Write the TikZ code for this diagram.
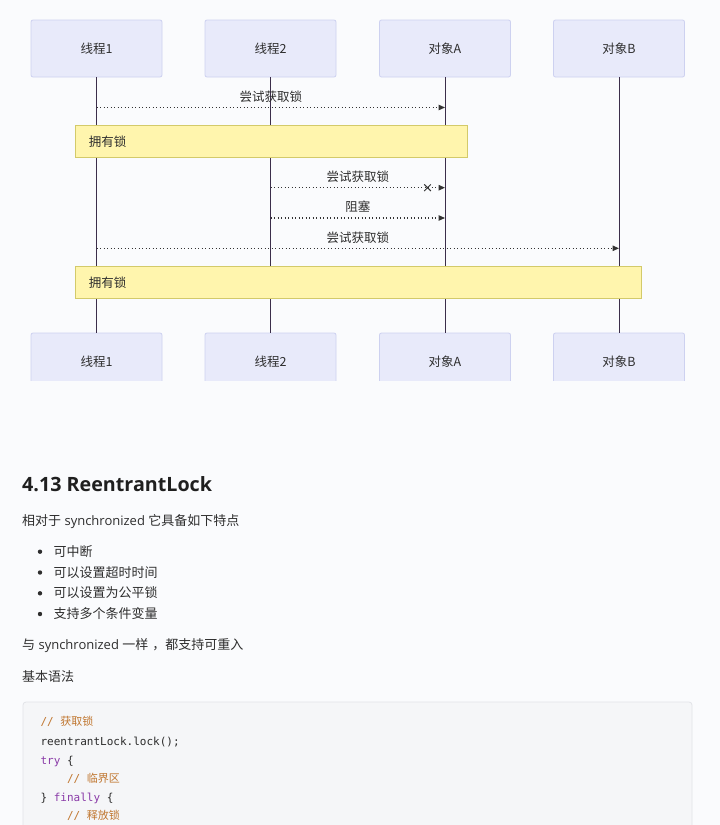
\documentclass[tikz,border=0pt]{standalone}
\usepackage{fontspec}
\setmainfont{Open Sans}
\newfontfamily\cjk{Noto Sans CJK SC}
\newfontfamily\codefont{DejaVu Sans Mono}
\usetikzlibrary{arrows.meta}
\definecolor{bg}{HTML}{FAFBFD}
\definecolor{actorfill}{HTML}{E8EAFA}
\definecolor{actorline}{HTML}{CDD1F0}
\definecolor{lifec}{HTML}{3B2E4A}
\definecolor{notefill}{HTML}{FFF5AD}
\definecolor{noteline}{HTML}{D3CA6A}
\definecolor{msgc}{HTML}{333333}
\definecolor{txt}{HTML}{2E2E2E}
\definecolor{headc}{HTML}{1F1F1F}
\definecolor{codebg}{HTML}{F5F6F8}
\definecolor{codeline}{HTML}{E2E4E8}
\definecolor{commentc}{HTML}{C0762F}
\definecolor{kwc}{HTML}{8A3BA8}
\definecolor{codec}{HTML}{2B2B2B}
\tikzset{
  actor/.style={draw=actorline, fill=actorfill, rounded corners=2pt, line width=0.8pt,
    minimum width=131pt, minimum height=57pt, text=txt,
    font=\cjk\fontsize{12.5}{14}\selectfont},
  lifeline/.style={draw=lifec, line width=1pt},
  notebox/.style={draw=noteline, fill=notefill, line width=0.8pt, anchor=north west,
    minimum height=32pt, inner xsep=14pt, align=left, text=txt,
    font=\cjk\fontsize{12.5}{14}\selectfont},
  msg/.style={draw=msgc, line width=1.1pt, dash pattern=on 1.4pt off 2.1pt,
    -{Triangle[length=6.5pt,width=5.5pt]}},
  msglabel/.style={text=txt, font=\cjk\fontsize{12.5}{14}\selectfont, yshift=11pt, inner sep=0pt},
  para/.style={anchor=west, inner sep=0pt, text=txt, font=\fontsize{13}{16}\selectfont,
    text height=11pt, text depth=2pt},
  codeln/.style={anchor=west, inner sep=0pt, text=codec, font=\codefont\fontsize{11}{13}\selectfont,
    text height=9pt, text depth=2pt}
}
\begin{document}
\begin{tikzpicture}[x=1pt,y=-1pt]
\useasboundingbox (0,0) rectangle (720,825);
\fill[bg] (0,0) rectangle (720,825);

% participants top
\node[actor] (t1top) at (96.5,48.5) {线程1};
\node[actor] (t2top) at (270.5,48.5) {线程2};
\node[actor] (t3top) at (445,48.5) {对象A};
\node[actor] (t4top) at (619,48.5) {对象B};

% participants bottom (cut off at the bottom)
\begin{scope}
\clip (0,0) rectangle (720,380);
\node[actor] (t1bot) at (96.5,361.5) {线程1};
\node[actor] (t2bot) at (270.5,361.5) {线程2};
\node[actor] (t3bot) at (445,361.5) {对象A};
\node[actor] (t4bot) at (619,361.5) {对象B};
\end{scope}

% lifelines
\draw[lifeline] (t1top.south) -- (t1bot.north);
\draw[lifeline] (t2top.south) -- (t2bot.north);
\draw[lifeline] (t3top.south) -- (t3bot.north);
\draw[lifeline] (t4top.south) -- (t4bot.north);

% notes
\node[notebox, minimum width=392pt, text width=364pt] (n1) at (74.5,125) {拥有锁};
\node[notebox, minimum width=566pt, text width=538pt] (n2) at (74.5,266) {拥有锁};

% messages
\coordinate (y1) at (0,107.5);
\coordinate (y2) at (0,187.7);
\coordinate (y3) at (0,218);
\coordinate (y4) at (0,248.3);
\draw[msg] (t1top.south |- y1) -- (t3top.south |- y1) node[midway, msglabel] (l1) {尝试获取锁};
\draw[msg] (t2top.south |- y2) -- (t3top.south |- y2) node[midway, msglabel] (l2) {尝试获取锁};
\coordinate (cx) at (427.5,187.7);
\draw[msgc, line width=1pt] ([shift={(-3.3,-3.3)}]cx) -- ([shift={(3.3,3.3)}]cx)
  ([shift={(-3.3,3.3)}]cx) -- ([shift={(3.3,-3.3)}]cx);
\draw[msg] (t2top.south |- y3) -- (t3top.south |- y3) node[midway, msglabel] (l3) {阻塞};
\draw[msg] (t1top.south |- y4) -- (t4top.south |- y4) node[midway, msglabel] (l4) {尝试获取锁};

% text section
\node[anchor=west, inner sep=0pt, text=headc, font=\bfseries\fontsize{19.7}{22}\selectfont,
  text height=14pt, text depth=0pt] (h) at (22,484) {4.13 ReentrantLock};
\node[para] (p1) at (22,521) {{\cjk 相对于} synchronized {\cjk 它具备如下特点}};
\fill[txt] (40,551.7) circle (2.2);
\fill[txt] (40,572.5) circle (2.2);
\fill[txt] (40,593.3) circle (2.2);
\fill[txt] (40,614) circle (2.2);
\node[para] (b1) at (53.3,551.7) {\cjk 可中断};
\node[para] (b2) at (53.3,572.5) {\cjk 可以设置超时时间};
\node[para] (b3) at (53.3,593.3) {\cjk 可以设置为公平锁};
\node[para] (b4) at (53.3,614) {\cjk 支持多个条件变量};
\node[para] (p2) at (22,645) {{\cjk 与} synchronized {\cjk 一样\hspace{4pt}，都支持可重入}};
\node[para] (p3) at (22,676.7) {\cjk 基本语法};

% code block
\draw[codeline, fill=codebg, rounded corners=3pt, line width=0.8pt] (23,702) rectangle (692,850);
\node[codeln] (c1) at (40.4,722.3) {\color{commentc}// {\cjk 获取锁}};
\node[codeln] (c2) at (40.4,741.5) {reentrantLock.lock();};
\node[codeln] (c3) at (40.4,760.5) {{\color{kwc}try} \{};
\node[codeln] (c4) at (66.8,779.3) {\color{commentc}// {\cjk 临界区}};
\node[codeln] (c5) at (40.4,797.5) {\} {\color{kwc}finally} \{};
\node[codeln] (c6) at (66.8,816) {\color{commentc}// {\cjk 释放锁}};
\end{tikzpicture}
\end{document}
